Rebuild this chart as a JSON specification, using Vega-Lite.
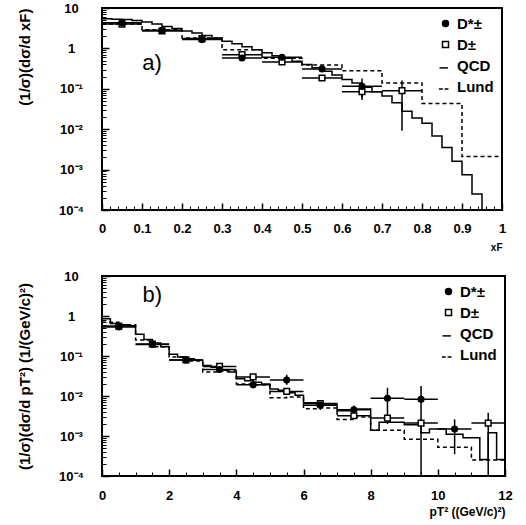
{
  "$schema": "https://vega.github.io/schema/vega-lite/v6.json",
  "padding": {"left": 16, "top": 1, "right": 14, "bottom": 4},
  "background": "white",
  "spacing": 16,
  "config": {
    "font": "Liberation Sans",
    "view": {"stroke": "black", "strokeWidth": 2},
    "axis": {
      "labelFont": "Liberation Sans", "labelFontWeight": "bold", "labelFontSize": 13, "labelColor": "black",
      "titleFont": "Liberation Sans", "titleFontWeight": "bold", "titleColor": "black",
      "tickColor": "black", "tickWidth": 1.5, "domain": false, "grid": false, "labelFlush": false
    },
    "legend": {
      "orient": "top-right", "offset": 8, "title": null,
      "labelFont": "Liberation Sans", "labelFontWeight": "bold", "labelFontSize": 15, "labelColor": "black",
      "symbolStrokeColor": "black", "symbolStrokeWidth": 1.5, "symbolSize": 36, "rowPadding": 5
    }
  },
  "resolve": {
    "scale": {"x": "independent", "y": "independent", "shape": "independent", "fill": "independent", "stroke": "independent"},
    "legend": {"shape": "independent", "fill": "independent", "stroke": "independent"}
  },
  "datasets": {
    "lundA": [
      {"x": 0.0, "y": 4.0}, {"x": 0.1, "y": 2.9}, {"x": 0.2, "y": 1.8}, {"x": 0.3, "y": 0.92},
      {"x": 0.4, "y": 0.57}, {"x": 0.5, "y": 0.39}, {"x": 0.6, "y": 0.28}, {"x": 0.7, "y": 0.14},
      {"x": 0.8, "y": 0.043}, {"x": 0.9, "y": 0.0021}, {"x": 1.0, "y": 0.0021}
    ],
    "qcdA": [
      {"x": 0.0, "y": 5.4}, {"x": 0.025, "y": 5.3}, {"x": 0.05, "y": 5.2}, {"x": 0.075, "y": 4.9},
      {"x": 0.1, "y": 4.5}, {"x": 0.125, "y": 4.0}, {"x": 0.15, "y": 3.5}, {"x": 0.175, "y": 3.1},
      {"x": 0.2, "y": 2.7}, {"x": 0.225, "y": 2.4}, {"x": 0.25, "y": 2.1}, {"x": 0.275, "y": 1.8},
      {"x": 0.3, "y": 1.5}, {"x": 0.325, "y": 1.3}, {"x": 0.35, "y": 1.1}, {"x": 0.375, "y": 0.93},
      {"x": 0.4, "y": 0.78}, {"x": 0.425, "y": 0.66}, {"x": 0.45, "y": 0.57}, {"x": 0.475, "y": 0.48},
      {"x": 0.5, "y": 0.4}, {"x": 0.525, "y": 0.33}, {"x": 0.55, "y": 0.27}, {"x": 0.575, "y": 0.22},
      {"x": 0.6, "y": 0.17}, {"x": 0.625, "y": 0.14}, {"x": 0.65, "y": 0.11}, {"x": 0.675, "y": 0.085},
      {"x": 0.7, "y": 0.066}, {"x": 0.725, "y": 0.045}, {"x": 0.75, "y": 0.028}, {"x": 0.775, "y": 0.019},
      {"x": 0.8, "y": 0.014}, {"x": 0.825, "y": 0.0068}, {"x": 0.85, "y": 0.0035}, {"x": 0.875, "y": 0.0016},
      {"x": 0.9, "y": 0.00075}, {"x": 0.925, "y": 0.00025}, {"x": 0.95, "y": 0.00001}
    ],
    "ptsA": [
      {"s": "D±", "x": 0.05, "y": 4.0, "xlo": 0.0, "xhi": 0.1, "ylo": 3.7, "yhi": 4.3},
      {"s": "D±", "x": 0.15, "y": 2.7, "xlo": 0.1, "xhi": 0.2, "ylo": 2.5, "yhi": 2.9},
      {"s": "D±", "x": 0.25, "y": 1.75, "xlo": 0.2, "xhi": 0.3, "ylo": 1.6, "yhi": 1.9},
      {"s": "D±", "x": 0.35, "y": 0.7, "xlo": 0.3, "xhi": 0.4, "ylo": 0.63, "yhi": 0.78},
      {"s": "D±", "x": 0.45, "y": 0.46, "xlo": 0.4, "xhi": 0.5, "ylo": 0.42, "yhi": 0.5},
      {"s": "D±", "x": 0.55, "y": 0.185, "xlo": 0.5, "xhi": 0.6, "ylo": 0.165, "yhi": 0.21},
      {"s": "D±", "x": 0.65, "y": 0.085, "xlo": 0.6, "xhi": 0.7, "ylo": 0.06, "yhi": 0.12},
      {"s": "D±", "x": 0.75, "y": 0.09, "xlo": 0.7, "xhi": 0.8, "ylo": 0.0091, "yhi": 0.16},
      {"s": "D*±", "x": 0.05, "y": 4.3, "xlo": 0.0, "xhi": 0.1, "ylo": 4.0, "yhi": 4.6},
      {"s": "D*±", "x": 0.15, "y": 2.8, "xlo": 0.1, "xhi": 0.2, "ylo": 2.6, "yhi": 3.0},
      {"s": "D*±", "x": 0.25, "y": 1.65, "xlo": 0.2, "xhi": 0.3, "ylo": 1.5, "yhi": 1.8},
      {"s": "D*±", "x": 0.35, "y": 0.58, "xlo": 0.3, "xhi": 0.4, "ylo": 0.52, "yhi": 0.65},
      {"s": "D*±", "x": 0.45, "y": 0.6, "xlo": 0.4, "xhi": 0.5, "ylo": 0.55, "yhi": 0.66},
      {"s": "D*±", "x": 0.55, "y": 0.31, "xlo": 0.5, "xhi": 0.6, "ylo": 0.27, "yhi": 0.36},
      {"s": "D*±", "x": 0.65, "y": 0.115, "xlo": 0.6, "xhi": 0.7, "ylo": 0.053, "yhi": 0.18}
    ],
    "lundB": [
      {"x": 0.0, "y": 0.7}, {"x": 0.5, "y": 0.6}, {"x": 1.0, "y": 0.25}, {"x": 1.5, "y": 0.17},
      {"x": 2.0, "y": 0.095}, {"x": 2.5, "y": 0.075}, {"x": 3.0, "y": 0.04}, {"x": 3.5, "y": 0.042},
      {"x": 4.0, "y": 0.02}, {"x": 4.5, "y": 0.019}, {"x": 5.0, "y": 0.009}, {"x": 5.5, "y": 0.0095},
      {"x": 6.0, "y": 0.0048}, {"x": 6.5, "y": 0.005}, {"x": 7.0, "y": 0.0026}, {"x": 7.5, "y": 0.003},
      {"x": 8.0, "y": 0.0014}, {"x": 9.0, "y": 0.00083}, {"x": 10.0, "y": 0.00052}, {"x": 11.0, "y": 0.00025},
      {"x": 12.0, "y": 0.00025}
    ],
    "qcdB": [
      {"x": 0.0, "y": 0.85}, {"x": 0.25, "y": 0.65}, {"x": 0.5, "y": 0.6}, {"x": 0.75, "y": 0.57},
      {"x": 1.0, "y": 0.35}, {"x": 1.25, "y": 0.26}, {"x": 1.5, "y": 0.21}, {"x": 1.75, "y": 0.17},
      {"x": 2.0, "y": 0.11}, {"x": 2.25, "y": 0.095}, {"x": 2.5, "y": 0.085}, {"x": 2.75, "y": 0.078},
      {"x": 3.0, "y": 0.058}, {"x": 3.25, "y": 0.052}, {"x": 3.5, "y": 0.044}, {"x": 3.75, "y": 0.04},
      {"x": 4.0, "y": 0.027}, {"x": 4.25, "y": 0.024}, {"x": 4.5, "y": 0.022}, {"x": 4.75, "y": 0.02},
      {"x": 5.0, "y": 0.015}, {"x": 5.25, "y": 0.014}, {"x": 5.5, "y": 0.012}, {"x": 5.75, "y": 0.0105},
      {"x": 6.0, "y": 0.0068}, {"x": 6.5, "y": 0.0063}, {"x": 7.0, "y": 0.0043}, {"x": 7.5, "y": 0.0047},
      {"x": 8.0, "y": 0.0014}, {"x": 8.25, "y": 0.0022}, {"x": 9.0, "y": 0.0019}, {"x": 9.5, "y": 0.0012},
      {"x": 9.75, "y": 0.0015}, {"x": 10.25, "y": 0.0011}, {"x": 10.75, "y": 0.0009}, {"x": 11.25, "y": 0.00026},
      {"x": 11.5, "y": 0.0012}, {"x": 11.75, "y": 0.00026}, {"x": 12.0, "y": 0.00026}
    ],
    "ptsB": [
      {"s": "D±", "x": 0.5, "y": 0.56, "xlo": 0, "xhi": 1, "ylo": 0.52, "yhi": 0.6},
      {"s": "D±", "x": 1.5, "y": 0.2, "xlo": 1, "xhi": 2, "ylo": 0.185, "yhi": 0.215},
      {"s": "D±", "x": 2.5, "y": 0.08, "xlo": 2, "xhi": 3, "ylo": 0.074, "yhi": 0.087},
      {"s": "D±", "x": 3.5, "y": 0.055, "xlo": 3, "xhi": 4, "ylo": 0.05, "yhi": 0.061},
      {"s": "D±", "x": 4.5, "y": 0.03, "xlo": 4, "xhi": 5, "ylo": 0.027, "yhi": 0.033},
      {"s": "D±", "x": 5.5, "y": 0.013, "xlo": 5, "xhi": 6, "ylo": 0.011, "yhi": 0.015},
      {"s": "D±", "x": 6.5, "y": 0.0065, "xlo": 6, "xhi": 7, "ylo": 0.0058, "yhi": 0.0072},
      {"s": "D±", "x": 7.5, "y": 0.0032, "xlo": 7, "xhi": 8, "ylo": 0.0028, "yhi": 0.0037},
      {"s": "D±", "x": 8.5, "y": 0.0028, "xlo": 8, "xhi": 9, "ylo": 0.0024, "yhi": 0.0033},
      {"s": "D±", "x": 9.5, "y": 0.0021, "xlo": 9, "xhi": 10, "ylo": 0.0018, "yhi": 0.0025},
      {"s": "D±", "x": 11.5, "y": 0.0021, "xlo": 11, "xhi": 12, "ylo": 0.00001, "yhi": 0.0038},
      {"s": "D*±", "x": 0.5, "y": 0.53, "xlo": 0, "xhi": 1, "ylo": 0.49, "yhi": 0.57},
      {"s": "D*±", "x": 1.5, "y": 0.195, "xlo": 1, "xhi": 2, "ylo": 0.18, "yhi": 0.21},
      {"s": "D*±", "x": 2.5, "y": 0.079, "xlo": 2, "xhi": 3, "ylo": 0.073, "yhi": 0.086},
      {"s": "D*±", "x": 3.5, "y": 0.046, "xlo": 3, "xhi": 4, "ylo": 0.041, "yhi": 0.051},
      {"s": "D*±", "x": 4.5, "y": 0.019, "xlo": 4, "xhi": 5, "ylo": 0.017, "yhi": 0.022},
      {"s": "D*±", "x": 5.5, "y": 0.025, "xlo": 5, "xhi": 6, "ylo": 0.019, "yhi": 0.034},
      {"s": "D*±", "x": 6.5, "y": 0.0059, "xlo": 6, "xhi": 7, "ylo": 0.0045, "yhi": 0.0072},
      {"s": "D*±", "x": 7.5, "y": 0.0045, "xlo": 7, "xhi": 8, "ylo": 0.0036, "yhi": 0.0058},
      {"s": "D*±", "x": 8.5, "y": 0.0088, "xlo": 8, "xhi": 9, "ylo": 0.002, "yhi": 0.016},
      {"s": "D*±", "x": 9.5, "y": 0.0083, "xlo": 9, "xhi": 10, "ylo": 0.00001, "yhi": 0.0178},
      {"s": "D*±", "x": 10.5, "y": 0.0015, "xlo": 10, "xhi": 11, "ylo": 0.00035, "yhi": 0.0026}
    ]
  },
  "vconcat": [
    {
      "width": 400,
      "height": 202,
      "resolve": {"axis": {"x": "independent", "y": "independent"}},
      "layer": [
        {
          "data": {"name": "lundA"},
          "mark": {"type": "line", "interpolate": "step-after", "color": "black", "strokeWidth": 1.5, "strokeDash": [4, 3], "clip": true},
          "encoding": {
            "x": {"field": "x", "type": "quantitative", "scale": {"domain": [0, 1], "nice": false},
                  "axis": {"orient": "bottom", "values": [0, 0.1, 0.2, 0.3, 0.4, 0.5, 0.6, 0.7, 0.8, 0.9, 1], "format": "~g",
                           "tickSize": -7, "labelPadding": 19, "title": "xF", "titleFontSize": 10, "titleAnchor": "end", "titleAlign": "right", "titlePadding": 7}},
            "y": {"field": "y", "type": "quantitative", "scale": {"type": "log", "domain": [0.0001, 10], "nice": false},
                  "axis": {"orient": "left", "values": [0.0001, 0.001, 0.01, 0.1, 1, 10], "tickSize": -7, "labelPadding": 38, "labelAlign": "center",
                           "labelExpr": "round(log(datum.value)/LN10)==1?'10':round(log(datum.value)/LN10)==0?'1':'10'+(round(log(datum.value)/LN10)==-1?'⁻¹':round(log(datum.value)/LN10)==-2?'⁻²':round(log(datum.value)/LN10)==-3?'⁻³':'⁻⁴')",
                           "title": "(1/σ)(dσ/d xF)", "titleFontSize": 15, "titleAnchor": "end", "titlePadding": 26}}
          }
        },
        {
          "data": {"name": "lundA"},
          "mark": {"type": "point", "opacity": 0},
          "encoding": {
            "x": {"field": "x", "type": "quantitative",
                  "axis": {"orient": "bottom", "labels": false, "title": null, "tickSize": -4, "tickWidth": 1,
                           "values": [0.02, 0.04, 0.06, 0.08, 0.12, 0.14, 0.16, 0.18, 0.22, 0.24, 0.26, 0.28, 0.32, 0.34, 0.36, 0.38, 0.42, 0.44, 0.46, 0.48, 0.52, 0.54, 0.56, 0.58, 0.62, 0.64, 0.66, 0.68, 0.72, 0.74, 0.76, 0.78, 0.82, 0.84, 0.86, 0.88, 0.92, 0.94, 0.96, 0.98]}},
            "y": {"field": "y", "type": "quantitative",
                  "axis": {"orient": "left", "labels": false, "title": null, "tickSize": -4, "tickWidth": 1,
                           "values": [0.0002, 0.0003, 0.0004, 0.0005, 0.0006, 0.0007, 0.0008, 0.0009, 0.002, 0.003, 0.004, 0.005, 0.006, 0.007, 0.008, 0.009, 0.02, 0.03, 0.04, 0.05, 0.06, 0.07, 0.08, 0.09, 0.2, 0.3, 0.4, 0.5, 0.6, 0.7, 0.8, 0.9, 2, 3, 4, 5, 6, 7, 8, 9]}}
          }
        },
        {
          "data": {"name": "qcdA"},
          "mark": {"type": "line", "interpolate": "step-after", "color": "black", "strokeWidth": 1.5, "clip": true},
          "encoding": {
            "x": {"field": "x", "type": "quantitative", "axis": null},
            "y": {"field": "y", "type": "quantitative", "axis": null}
          }
        },
        {
          "data": {"name": "ptsA"},
          "mark": {"type": "rule", "color": "black", "strokeWidth": 1.5, "clip": true},
          "encoding": {
            "x": {"field": "xlo", "type": "quantitative", "axis": null},
            "x2": {"field": "xhi"},
            "y": {"field": "y", "type": "quantitative", "axis": null}
          }
        },
        {
          "data": {"name": "ptsA"},
          "mark": {"type": "rule", "color": "black", "strokeWidth": 1.5, "clip": true},
          "encoding": {
            "x": {"field": "x", "type": "quantitative", "axis": null},
            "y": {"field": "ylo", "type": "quantitative", "axis": null},
            "y2": {"field": "yhi"}
          }
        },
        {
          "data": {"name": "ptsA"},
          "mark": {"type": "point", "strokeWidth": 1.5, "size": 32, "opacity": 1},
          "encoding": {
            "x": {"field": "x", "type": "quantitative", "axis": null},
            "y": {"field": "y", "type": "quantitative", "axis": null},
            "shape": {"field": "s", "type": "nominal",
                      "scale": {"domain": ["D*±", "D±", "QCD", "Lund"], "range": ["circle", "square", "M-2,0.8L0.8,0.8", "M-2.2,0.8L-0.9,0.8M-0.3,0.8L1,0.8"]},
                      "legend": {"title": null}},
            "fill": {"field": "s", "type": "nominal",
                     "scale": {"domain": ["D*±", "D±", "QCD", "Lund"], "range": ["black", "white", "transparent", "transparent"]},
                     "legend": {"title": null}},
            "stroke": {"field": "s", "type": "nominal",
                     "scale": {"domain": ["D*±", "D±", "QCD", "Lund"], "range": ["black", "black", "black", "black"]},
                     "legend": {"title": null}}
          }
        },
        {
          "data": {"values": [{}]},
          "mark": {"type": "text", "text": "a)", "fontSize": 22, "font": "Liberation Sans", "color": "black"},
          "encoding": {
            "x": {"datum": 0.125, "type": "quantitative", "axis": null},
            "y": {"datum": 0.43, "type": "quantitative", "axis": null}
          }
        }
      ]
    },
    {
      "width": 403,
      "height": 200,
      "resolve": {"axis": {"x": "independent", "y": "independent"}},
      "layer": [
        {
          "data": {"name": "lundB"},
          "mark": {"type": "line", "interpolate": "step-after", "color": "black", "strokeWidth": 1.5, "strokeDash": [4, 3], "clip": true},
          "encoding": {
            "x": {"field": "x", "type": "quantitative", "scale": {"domain": [0, 12], "nice": false},
                  "axis": {"orient": "bottom", "values": [0, 2, 4, 6, 8, 10, 12], "format": "~g",
                           "tickSize": -7, "labelPadding": 20, "title": "pT² ((GeV/c)²)", "titleFontSize": 12, "titleAnchor": "end", "titleAlign": "right", "titlePadding": 4}},
            "y": {"field": "y", "type": "quantitative", "scale": {"type": "log", "domain": [0.0001, 10], "nice": false},
                  "axis": {"orient": "left", "values": [0.0001, 0.001, 0.01, 0.1, 1, 10], "tickSize": -7, "labelPadding": 38, "labelAlign": "center",
                           "labelExpr": "round(log(datum.value)/LN10)==1?'10':round(log(datum.value)/LN10)==0?'1':'10'+(round(log(datum.value)/LN10)==-1?'⁻¹':round(log(datum.value)/LN10)==-2?'⁻²':round(log(datum.value)/LN10)==-3?'⁻³':'⁻⁴')",
                           "title": "(1/σ)(dσ/d pT²) (1/(GeV/c)²)", "titleFontSize": 15, "titlePadding": 26}}
          }
        },
        {
          "data": {"name": "lundB"},
          "mark": {"type": "point", "opacity": 0},
          "encoding": {
            "x": {"field": "x", "type": "quantitative",
                  "axis": {"orient": "bottom", "labels": false, "title": null, "tickSize": -4, "tickWidth": 1,
                           "values": [0.5, 1, 1.5, 2.5, 3, 3.5, 4.5, 5, 5.5, 6.5, 7, 7.5, 8.5, 9, 9.5, 10.5, 11, 11.5]}},
            "y": {"field": "y", "type": "quantitative",
                  "axis": {"orient": "left", "labels": false, "title": null, "tickSize": -4, "tickWidth": 1,
                           "values": [0.0002, 0.0003, 0.0004, 0.0005, 0.0006, 0.0007, 0.0008, 0.0009, 0.002, 0.003, 0.004, 0.005, 0.006, 0.007, 0.008, 0.009, 0.02, 0.03, 0.04, 0.05, 0.06, 0.07, 0.08, 0.09, 0.2, 0.3, 0.4, 0.5, 0.6, 0.7, 0.8, 0.9, 2, 3, 4, 5, 6, 7, 8, 9]}}
          }
        },
        {
          "data": {"name": "qcdB"},
          "mark": {"type": "line", "interpolate": "step-after", "color": "black", "strokeWidth": 1.5, "clip": true},
          "encoding": {
            "x": {"field": "x", "type": "quantitative", "axis": null},
            "y": {"field": "y", "type": "quantitative", "axis": null}
          }
        },
        {
          "data": {"name": "ptsB"},
          "mark": {"type": "rule", "color": "black", "strokeWidth": 1.5, "clip": true},
          "encoding": {
            "x": {"field": "xlo", "type": "quantitative", "axis": null},
            "x2": {"field": "xhi"},
            "y": {"field": "y", "type": "quantitative", "axis": null}
          }
        },
        {
          "data": {"name": "ptsB"},
          "mark": {"type": "rule", "color": "black", "strokeWidth": 1.5, "clip": true},
          "encoding": {
            "x": {"field": "x", "type": "quantitative", "axis": null},
            "y": {"field": "ylo", "type": "quantitative", "axis": null},
            "y2": {"field": "yhi"}
          }
        },
        {
          "data": {"name": "ptsB"},
          "mark": {"type": "point", "strokeWidth": 1.5, "size": 32, "opacity": 1},
          "encoding": {
            "x": {"field": "x", "type": "quantitative", "axis": null},
            "y": {"field": "y", "type": "quantitative", "axis": null},
            "shape": {"field": "s", "type": "nominal",
                      "scale": {"domain": ["D*±", "D±", "QCD", "Lund"], "range": ["circle", "square", "M-2,0.8L0.8,0.8", "M-2.2,0.8L-0.9,0.8M-0.3,0.8L1,0.8"]},
                      "legend": {"title": null}},
            "fill": {"field": "s", "type": "nominal",
                     "scale": {"domain": ["D*±", "D±", "QCD", "Lund"], "range": ["black", "white", "transparent", "transparent"]},
                     "legend": {"title": null}},
            "stroke": {"field": "s", "type": "nominal",
                     "scale": {"domain": ["D*±", "D±", "QCD", "Lund"], "range": ["black", "black", "black", "black"]},
                     "legend": {"title": null}}
          }
        },
        {
          "data": {"values": [{}]},
          "mark": {"type": "text", "text": "b)", "fontSize": 22, "font": "Liberation Sans", "color": "black"},
          "encoding": {
            "x": {"datum": 1.5, "type": "quantitative", "axis": null},
            "y": {"datum": 3.4, "type": "quantitative", "axis": null}
          }
        }
      ]
    }
  ]
}
